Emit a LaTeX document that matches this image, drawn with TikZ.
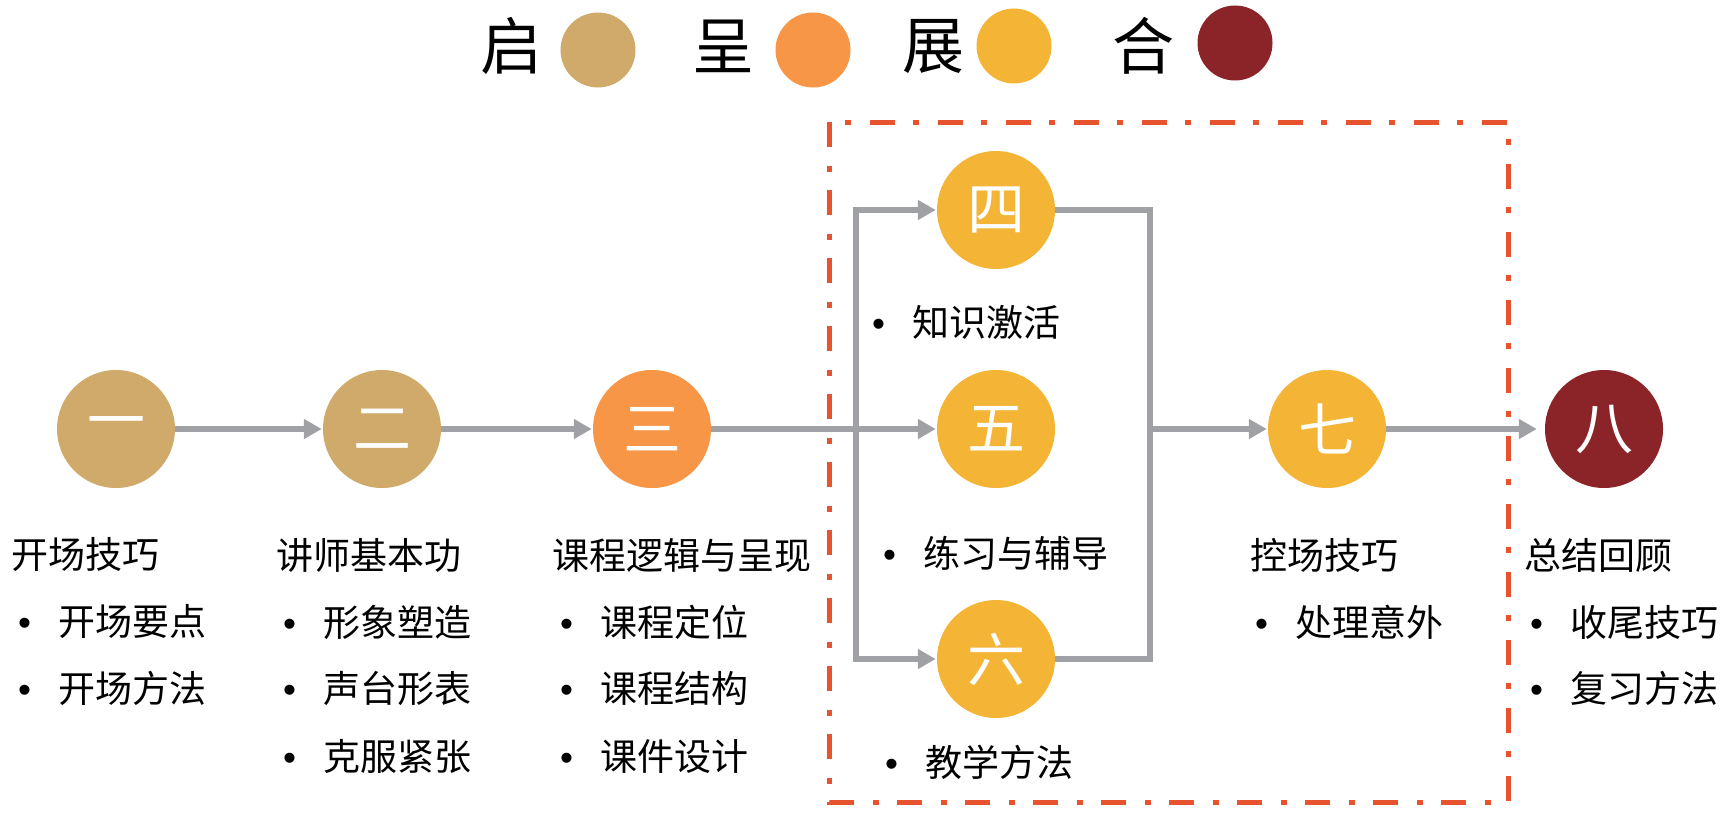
\documentclass[tikz,border=0pt]{standalone}
\usepackage{fontspec}
\newfontfamily\cjk{Noto Sans CJK SC}
\newfontfamily\bulfont{Liberation Sans}
\usetikzlibrary{arrows.meta}
\definecolor{ctan}{HTML}{CFAA6B}
\definecolor{corange}{HTML}{F79646}
\definecolor{cyellow}{HTML}{F4B436}
\definecolor{cred}{HTML}{8B2428}
\definecolor{cgrey}{HTML}{A0A1A5}
\definecolor{cdash}{HTML}{E8532F}
\newcommand{\bul}[1]{\makebox[40pt][l]{\bulfont •}#1}
\begin{document}
\begin{tikzpicture}[x=1pt,y=-1pt,
  num/.style={circle,minimum size=118pt,inner sep=0pt,text=white,font=\cjk\fontsize{58}{58}\selectfont},
  lbl/.style={anchor=west,inner sep=0pt,font=\cjk\fontsize{37}{37}\selectfont},
  hdr/.style={inner sep=0pt,font=\cjk\fontsize{62}{62}\selectfont},
  hdot/.style={circle,minimum size=75pt,inner sep=0pt},
  conn/.style={draw=cgrey,line width=5.5pt},
  arr/.style={conn,-{Triangle[length=18pt,width=19pt]},shorten >=1pt},
  dashframe/.style={draw=cdash,line width=5pt,dash pattern=on 25pt off 19pt on 6pt off 18pt}]
\useasboundingbox (0,0) rectangle (1726,816);
% header legend
\node[hdr] (h1) at (511,46) {启};
\node[hdot,fill=ctan] (d1) at (598,50) {};
\node[hdr] (h2) at (723,46) {呈};
\node[hdot,fill=corange] (d2) at (813,50) {};
\node[hdr] (h3) at (933,46) {展};
\node[hdot,fill=cyellow] (d3) at (1014,46) {};
\node[hdr] (h4) at (1143,46) {合};
\node[hdot,fill=cred] (d4) at (1235,43) {};
% numbered circles
\node[num,fill=ctan] (n1) at (116,429) {一};
\node[num,fill=ctan] (n2) at (382,429) {二};
\node[num,fill=corange] (n3) at (652,429) {三};
\node[num,fill=cyellow] (n4) at (996,210) {四};
\node[num,fill=cyellow] (n5) at (996,429) {五};
\node[num,fill=cyellow] (n6) at (996,659) {六};
\node[num,fill=cyellow] (n7) at (1327,429) {七};
\node[num,fill=cred] (n8) at (1604,429) {八};
\coordinate (jl) at (856,429);
\coordinate (jr) at (1150,429);
% connectors
\draw[arr] (n1) -- (n2);
\draw[arr] (n2) -- (n3);
\draw[arr] (n3) -- (n5);
\draw[arr] (jl) |- (n4);
\draw[arr] (jl) |- (n6);
\draw[conn] (n4) -| (jr);
\draw[conn] (n6) -| (jr);
\draw[arr] (jr) -- (n7);
\draw[arr,shorten >=8pt] (n7) -- (n8);
% labels
\node[lbl] (t1) at (11,555) {开场技巧};
\node[lbl] (t1a) at (18,622) {\bul{开场要点}};
\node[lbl] (t1b) at (18,688) {\bul{开场方法}};
\node[lbl] (t2) at (276,555) {讲师基本功};
\node[lbl] (t2a) at (283,622) {\bul{形象塑造}};
\node[lbl] (t2b) at (283,688) {\bul{声台形表}};
\node[lbl] (t2c) at (283,757) {\bul{克服紧张}};
\node[lbl] (t3) at (552,555) {课程逻辑与呈现};
\node[lbl] (t3a) at (560,622) {\bul{课程定位}};
\node[lbl] (t3b) at (560,688) {\bul{课程结构}};
\node[lbl] (t3c) at (560,757) {\bul{课件设计}};
\node[lbl] (t4a) at (872,322) {\bul{知识激活}};
\node[lbl] (t5a) at (883,553) {\bul{练习与辅导}};
\node[lbl] (t6a) at (885,762) {\bul{教学方法}};
\node[lbl] (t7) at (1250,555) {控场技巧};
\node[lbl] (t7a) at (1255,622) {\bul{处理意外}};
\node[lbl] (t8) at (1524,555) {总结回顾};
\node[lbl] (t8a) at (1530,622) {\bul{收尾技巧}};
\node[lbl] (t8b) at (1530,688) {\bul{复习方法}};
% dashed frame
\draw[dashframe] (829,122) rectangle (1508,802);
\end{tikzpicture}
\end{document}
